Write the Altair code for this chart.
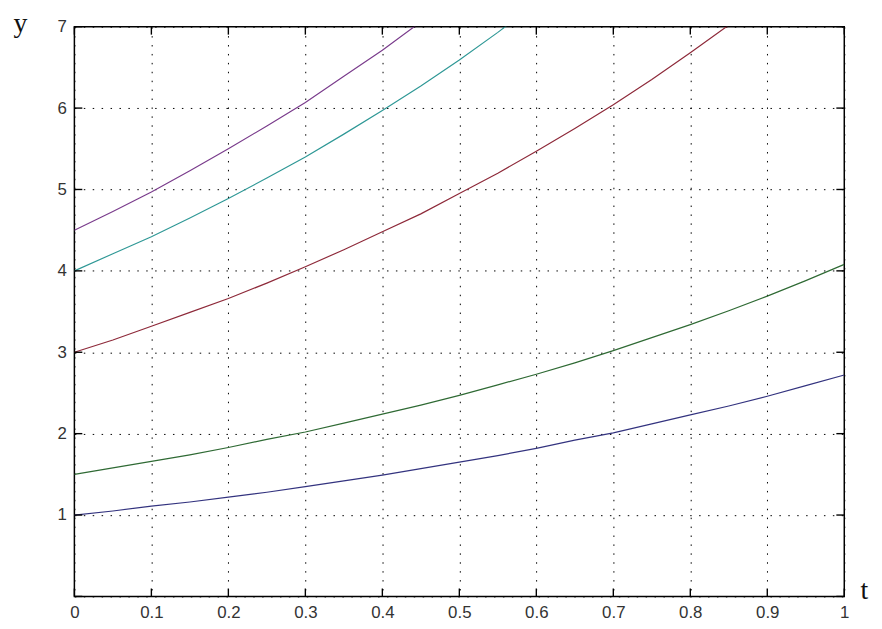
import altair as alt
import pandas as pd

# sample times
t_vals = [0.00, 0.05, 0.10, 0.15, 0.20, 0.25, 0.30, 0.35, 0.40, 0.45, 0.50,
          0.55, 0.60, 0.65, 0.70, 0.75, 0.80, 0.85, 0.90, 0.95, 1.00]

# curves (clipped at y = 7)
blue = [1.00, 1.05, 1.11, 1.16, 1.22, 1.28, 1.35, 1.42, 1.49, 1.57, 1.65,
        1.73, 1.82, 1.92, 2.01, 2.12, 2.23, 2.34, 2.46, 2.59, 2.72]
green = [1.50, 1.58, 1.66, 1.74, 1.83, 1.93, 2.02, 2.13, 2.24, 2.35, 2.47,
         2.60, 2.73, 2.87, 3.02, 3.18, 3.34, 3.51, 3.69, 3.88, 4.08]
red = [3.00, 3.15, 3.32, 3.49, 3.66, 3.85, 4.05, 4.26, 4.48, 4.70, 4.95,
       5.20, 5.47, 5.75, 6.04, 6.35, 6.68, 7.02]
cyan = [4.00, 4.21, 4.42, 4.65, 4.89, 5.14, 5.40, 5.68, 5.97, 6.27, 6.59,
        6.93, 7.29]
purple = [4.50, 4.73, 4.97, 5.23, 5.50, 5.78, 6.07, 6.39, 6.71, 7.06]

series_names = ["blue", "green", "red", "cyan", "purple"]
series_vals = [blue, green, red, cyan, purple]
series_colors = ["#33337f", "#2f6a34", "#8e2a3a", "#2f9896", "#7a3c8c"]

x_ticks = [0, 0.1, 0.2, 0.3, 0.4, 0.5, 0.6, 0.7, 0.8, 0.9, 1]
y_ticks = [0, 1, 2, 3, 4, 5, 6, 7]

W, H, TICK = 777, 575, 8

rows = []
for name, vals in zip(series_names, series_vals):
    for t, v in zip(t_vals, vals):
        rows.append({"t": t, "y": v, "s": name})
df = pd.DataFrame(rows)
xt = pd.DataFrame({"t": x_ticks})
yt = pd.DataFrame({"y": y_ticks})

LABEL_FONT = "Liberation Sans"
TITLE_FONT = "Liberation Serif"
GRID_DASH = [1.5, 7.5]

x_scale = alt.Scale(domain=[0, 1], nice=False, zero=False)
y_scale = alt.Scale(domain=[0, 7], nice=False, zero=False)
color = alt.Color("s:N", scale=alt.Scale(domain=series_names, range=series_colors), legend=None)

x_axis = alt.Axis(orient="bottom", values=x_ticks, format="~g", ticks=False,
                  domain=False, grid=True, gridColor="#000", gridDash=GRID_DASH,
                  gridWidth=1, gridOpacity=1,
                  labelPadding=8, labelFont=LABEL_FONT, labelFontSize=17,
                  labelColor="#333", labelFlush=False,
                  title="t", titleFont=TITLE_FONT, titleFontSize=28,
                  titleFontWeight="normal", titleColor="#111",
                  titleX=793, titleY=2, titleAlign="left",
                  titleBaseline="alphabetic", titleAngle=0)
y_axis = alt.Axis(orient="left", values=y_ticks, format="~g", ticks=False,
                  domain=False, grid=True, gridColor="#000", gridDash=GRID_DASH,
                  gridWidth=1, gridOpacity=1,
                  labelExpr="datum.value == 0 ? '' : datum.label",
                  labelPadding=8, labelFont=LABEL_FONT, labelFontSize=17,
                  labelColor="#333", labelFlush=False,
                  title="y", titleFont=TITLE_FONT, titleFontSize=28,
                  titleFontWeight="normal", titleColor="#111",
                  titleX=-62, titleY=5, titleAlign="left",
                  titleBaseline="alphabetic", titleAngle=0)

lines = alt.Chart(df).mark_line(clip=True, strokeWidth=1.2).encode(
    x=alt.X("t:Q", scale=x_scale, axis=x_axis),
    y=alt.Y("y:Q", scale=y_scale, axis=y_axis),
    color=color,
    detail="s:N",
)

tick_mark = dict(color="#000", strokeWidth=1.4)
bottom_ticks = alt.Chart(xt).mark_rule(**tick_mark).encode(
    x=alt.X("t:Q", scale=x_scale, axis=x_axis), y=alt.value(H), y2=alt.value(H - TICK))
top_ticks = alt.Chart(xt).mark_rule(**tick_mark).encode(
    x=alt.X("t:Q", scale=x_scale, axis=x_axis), y=alt.value(0), y2=alt.value(TICK))
left_ticks = alt.Chart(yt).mark_rule(**tick_mark).encode(
    y=alt.Y("y:Q", scale=y_scale, axis=y_axis), x=alt.value(0), x2=alt.value(TICK))
right_ticks = alt.Chart(yt).mark_rule(**tick_mark).encode(
    y=alt.Y("y:Q", scale=y_scale, axis=y_axis), x=alt.value(W), x2=alt.value(W - TICK))

chart = alt.layer(lines, bottom_ticks, top_ticks, left_ticks, right_ticks).properties(
    width=W, height=H,
    autosize=alt.AutoSizeParams(type="none"),
    padding={"left": 67, "top": 16, "right": 30, "bottom": 30},
    background="white",
).configure_view(stroke="#000", strokeWidth=1.5)

chart.save("out.html", embed_options={"renderer": "svg", "actions": False})
